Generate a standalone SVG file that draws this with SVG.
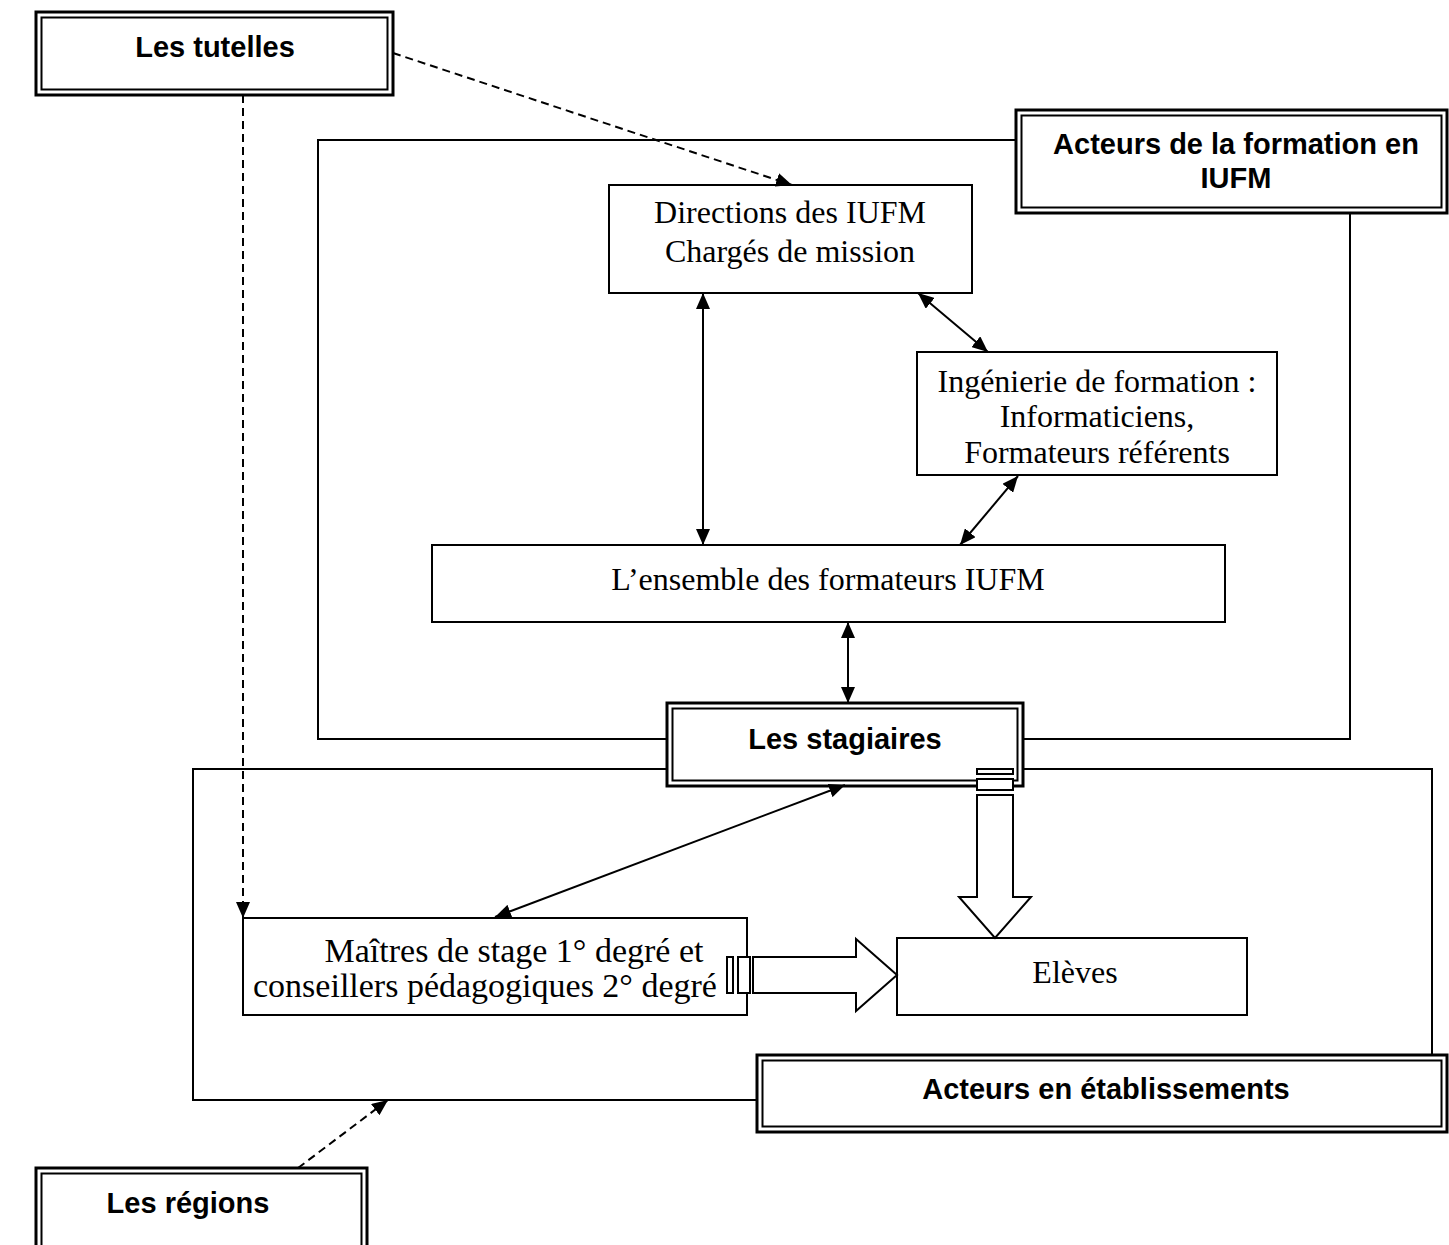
<svg xmlns="http://www.w3.org/2000/svg" width="1449" height="1245" viewBox="0 0 1449 1245">
<style>
.bg{fill:#fff}
.box{fill:#fff;stroke:#000;stroke-width:2}
.dbo{fill:#fff;stroke:#000;stroke-width:3}
.dbi{fill:none;stroke:#000;stroke-width:2}
.frame{fill:none;stroke:#000;stroke-width:2}
.ar{fill:none;stroke:#000;stroke-width:2}
.dash{fill:none;stroke:#000;stroke-width:2;stroke-dasharray:8 5}
.blk{fill:#fff;stroke:#000;stroke-width:2}
.h{font-family:"Liberation Sans",Arial,sans-serif;font-weight:bold;font-size:29px;text-anchor:middle;fill:#000}
.t{font-family:"Liberation Serif","Times New Roman",serif;font-size:32px;text-anchor:middle;fill:#000}
.tm{font-size:34px}
</style>
<defs>
<marker id="ah" viewBox="0 0 16 14" refX="16" refY="7" markerWidth="16" markerHeight="14" markerUnits="userSpaceOnUse" orient="auto-start-reverse">
<path d="M0,0 L16,7 L0,14 Z" fill="#000"/>
</marker>
</defs>
<rect class="bg" x="0" y="0" width="1449" height="1245"/>

<g id="frames">
<path class="frame" d="M1016 140 H318 V739 H667 M1023 739 H1350 V213"/>
<path class="frame" d="M667 769 H193 V1100 H757 M1023 769 H1432 V1055"/>
</g>

<g id="node-tutelles">
<rect class="dbo" x="36" y="12" width="357" height="83"/>
<rect class="dbi" x="41.5" y="17.5" width="346" height="72"/>
<text class="h" x="215" y="57">Les tutelles</text>
</g>

<g id="node-acteurs-iufm">
<rect class="dbo" x="1016" y="110" width="431" height="103"/>
<rect class="dbi" x="1021.5" y="115.5" width="420" height="92"/>
<text class="h" x="1236" y="154">Acteurs de la formation en</text>
<text class="h" x="1236" y="188">IUFM</text>
</g>

<g id="node-directions">
<rect class="box" x="609" y="185" width="363" height="108"/>
<text class="t" x="790" y="223">Directions des IUFM</text>
<text class="t" x="790" y="262">Chargés de mission</text>
</g>

<g id="node-ingenierie">
<rect class="box" x="917" y="352" width="360" height="123"/>
<text class="t" x="1097" y="392">Ingénierie de formation :</text>
<text class="t" x="1097" y="427">Informaticiens,</text>
<text class="t" x="1097" y="463">Formateurs référents</text>
</g>

<g id="node-ensemble">
<rect class="box" x="432" y="545" width="793" height="77"/>
<text class="t" x="828" y="590">L’ensemble des formateurs IUFM</text>
</g>

<g id="node-stagiaires">
<rect class="dbo" x="667" y="703" width="356" height="83"/>
<rect class="dbi" x="672.5" y="708.5" width="345" height="72"/>
<text class="h" x="845" y="749">Les stagiaires</text>
</g>

<g id="node-maitres">
<rect class="box" x="243" y="918" width="504" height="97"/>
<text class="t tm" x="514" y="962">Maîtres de stage 1° degré et</text>
<text class="t tm" x="485" y="997">conseillers pédagogiques 2° degré</text>
</g>

<g id="node-eleves">
<rect class="box" x="897" y="938" width="350" height="77"/>
<text class="t" x="1075" y="983">Elèves</text>
</g>

<g id="node-acteurs-etab">
<rect class="dbo" x="757" y="1055" width="690" height="77"/>
<rect class="dbi" x="762.5" y="1060.5" width="679" height="66"/>
<text class="h" x="1106" y="1099">Acteurs en établissements</text>
</g>

<g id="node-regions">
<rect class="dbo" x="36" y="1168" width="331" height="90"/>
<rect class="dbi" x="41.5" y="1173.5" width="320" height="90"/>
<text class="h" x="188" y="1213">Les régions</text>
</g>

<g id="connectors">
<line class="ar" x1="703" y1="293" x2="703" y2="545" marker-start="url(#ah)" marker-end="url(#ah)"/>
<line class="ar" x1="918" y1="293" x2="988" y2="352" marker-start="url(#ah)" marker-end="url(#ah)"/>
<line class="ar" x1="1018" y1="476" x2="960" y2="545" marker-start="url(#ah)" marker-end="url(#ah)"/>
<line class="ar" x1="848" y1="622" x2="848" y2="703" marker-start="url(#ah)" marker-end="url(#ah)"/>
<line class="ar" x1="495" y1="917" x2="845" y2="785" marker-start="url(#ah)" marker-end="url(#ah)"/>
<line class="dash" x1="393" y1="53" x2="792" y2="185" marker-end="url(#ah)"/>
<line class="dash" x1="243" y1="95" x2="243" y2="918" marker-end="url(#ah)"/>
<line class="dash" x1="298" y1="1168" x2="388" y2="1100" marker-end="url(#ah)"/>
<rect class="blk" x="977" y="769" width="36" height="5"/>
<rect class="blk" x="977" y="779" width="36" height="11"/>
<path class="blk" d="M977 795 H1013 V897 H1031 L995 938 L959 897 H977 Z"/>
<rect class="blk" x="727" y="957" width="6" height="36"/>
<rect class="blk" x="738" y="957" width="12" height="36"/>
<path class="blk" d="M753 957 H856 V939 L897 975 L856 1011 V993 H753 Z"/>
</g>
</svg>
